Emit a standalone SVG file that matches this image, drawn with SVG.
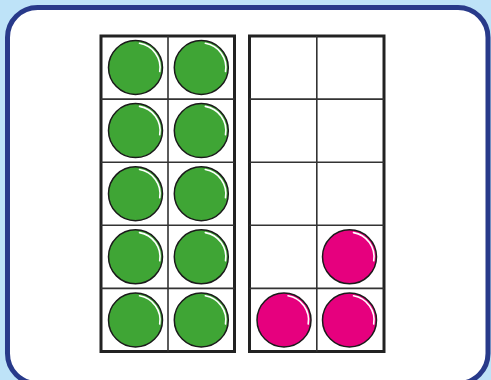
<svg xmlns="http://www.w3.org/2000/svg" width="491" height="380" viewBox="0 0 491 380">
<defs>
<style>
.frame{fill:#ffffff;stroke:#222222;stroke-width:3}
.grid{stroke:#333333;stroke-width:1.6;fill:none}
.g{fill:#3fa535;stroke:#1a1a1a;stroke-width:1.5}
.p{fill:#e6007e;stroke:#1a1a1a;stroke-width:1.5}
.hl{fill:none;stroke:#ffffff;stroke-width:1.6;stroke-linecap:round}
</style>
</defs>
<rect x="0" y="0" width="491" height="380" fill="#bee3f8"/>
<rect id="card" x="7.5" y="7.5" width="480.5" height="376" rx="30" ry="30" fill="#ffffff" stroke="#283a8a" stroke-width="5"/>
<g id="frame-left">
<rect class="frame" x="101" y="36" width="133.5" height="315.5"/>
<path class="grid" d="M168 36V351.5M101 99.1H234.5M101 162.2H234.5M101 225.3H234.5M101 288.4H234.5"/>
</g>
<g id="frame-right">
<rect class="frame" x="249.5" y="36" width="134.5" height="315.5"/>
<path class="grid" d="M316.8 36V351.5M249.5 99.1H384M249.5 162.2H384M249.5 225.3H384M249.5 288.4H384"/>
</g>
<g id="green-counters">
<g transform="translate(135.5,67.5)"><circle class="g" r="27"/><path class="hl" d="M 4 -24.2 A 24.5 24.5 0 0 1 24.2 4"/></g>
<g transform="translate(201.3,67.5)"><circle class="g" r="27"/><path class="hl" d="M 4 -24.2 A 24.5 24.5 0 0 1 24.2 4"/></g>
<g transform="translate(135.5,130.6)"><circle class="g" r="27"/><path class="hl" d="M 4 -24.2 A 24.5 24.5 0 0 1 24.2 4"/></g>
<g transform="translate(201.3,130.6)"><circle class="g" r="27"/><path class="hl" d="M 4 -24.2 A 24.5 24.5 0 0 1 24.2 4"/></g>
<g transform="translate(135.5,193.7)"><circle class="g" r="27"/><path class="hl" d="M 4 -24.2 A 24.5 24.5 0 0 1 24.2 4"/></g>
<g transform="translate(201.3,193.7)"><circle class="g" r="27"/><path class="hl" d="M 4 -24.2 A 24.5 24.5 0 0 1 24.2 4"/></g>
<g transform="translate(135.5,256.8)"><circle class="g" r="27"/><path class="hl" d="M 4 -24.2 A 24.5 24.5 0 0 1 24.2 4"/></g>
<g transform="translate(201.3,256.8)"><circle class="g" r="27"/><path class="hl" d="M 4 -24.2 A 24.5 24.5 0 0 1 24.2 4"/></g>
<g transform="translate(135.5,320)"><circle class="g" r="27"/><path class="hl" d="M 4 -24.2 A 24.5 24.5 0 0 1 24.2 4"/></g>
<g transform="translate(201.3,320)"><circle class="g" r="27"/><path class="hl" d="M 4 -24.2 A 24.5 24.5 0 0 1 24.2 4"/></g>
</g>
<g id="pink-counters">
<g transform="translate(349.5,256.8)"><circle class="p" r="27"/><path class="hl" d="M 4 -24.2 A 24.5 24.5 0 0 1 24.2 4"/></g>
<g transform="translate(284,320)"><circle class="p" r="27"/><path class="hl" d="M 4 -24.2 A 24.5 24.5 0 0 1 24.2 4"/></g>
<g transform="translate(349.5,320)"><circle class="p" r="27"/><path class="hl" d="M 4 -24.2 A 24.5 24.5 0 0 1 24.2 4"/></g>
</g>
</svg>
